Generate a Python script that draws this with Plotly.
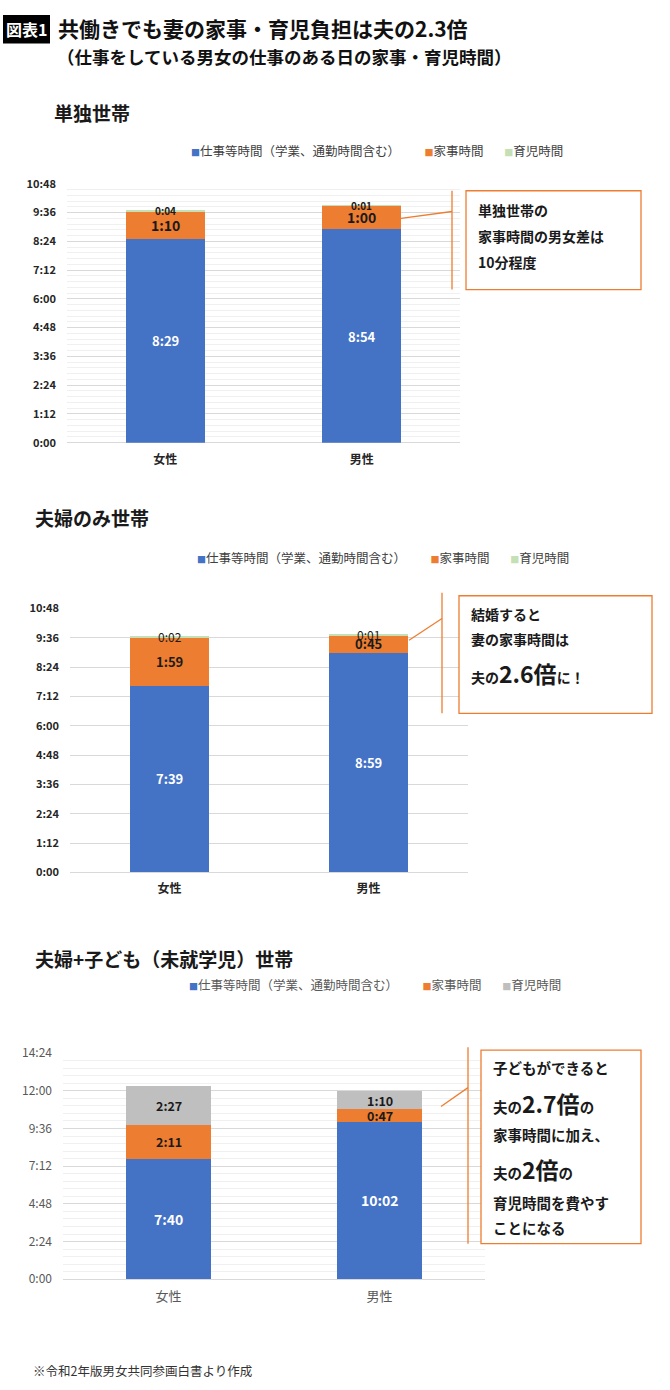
import plotly.graph_objects as go

W, H = 670, 1390
JP = "Noto Sans CJK JP"

# ---------------- data (minutes per day) ----------------
categories = ["女性", "男性"]
series_names = ["仕事等時間（学業、通勤時間含む）", "家事時間", "育児時間"]

single_work = [509, 534]    # 8:29, 8:54
single_house = [70, 60]     # 1:10, 1:00
single_child = [4, 1]       # 0:04, 0:01

couple_work = [459, 539]    # 7:39, 8:59
couple_house = [119, 45]    # 1:59, 0:45
couple_child = [2, 1]       # 0:02, 0:01

family_work = [460, 602]    # 7:40, 10:02
family_house = [131, 47]    # 2:11, 0:47
family_child = [147, 70]    # 2:27, 1:10

ticks_a = [0, 72, 144, 216, 288, 360, 432, 504, 576, 648]
ticks_a_labels = ["0:00", "1:12", "2:24", "3:36", "4:48", "6:00", "7:12", "8:24", "9:36", "10:48"]
ticks_b = [0, 144, 288, 432, 576, 720, 864]
ticks_b_labels = ["0:00", "2:24", "4:48", "7:12", "9:36", "12:00", "14:24"]

chart_titles = ["単独世帯", "夫婦のみ世帯", "夫婦+子ども（未就学児）世帯"]
main_title = "共働きでも妻の家事・育児負担は夫の2.3倍"
sub_title = "（仕事をしている男女の仕事のある日の家事・育児時間）"
footnote = "※令和2年版男女共同参画白書より作成"

BLUE, ORANGE, GREEN, GREY = "#4472C4", "#ED7D31", "#C5E0B4", "#BFBFBF"


def px(x):
    return x / W


def py(y):
    return 1 - y / H


def hm(m):
    return f"{m // 60}:{m % 60:02d}"


charts = [
    dict(series=[single_work, single_house, single_child], colors=[BLUE, ORANGE, GREEN],
         xd=(67, 460), yd=(176, 438), rng=648, ticks=ticks_a, labels=ticks_a_labels, minor=14.4,
         tickfont=dict(family=JP, size=11, color="#262626", weight="bold"),
         xfont=dict(family=JP, size=12, color="#262626", weight="bold"),
         lab=[(13, "white", True), (14, "#1a1a1a", True), (10, "#1a1a1a", True)],
         title_xy=(52, 104), legend_xy=(189, 142), legend_color="#404040"),
    dict(series=[couple_work, couple_house, couple_child], colors=[BLUE, ORANGE, GREEN],
         xd=(70, 468), yd=(606, 873), rng=648, ticks=ticks_a, labels=ticks_a_labels, minor=None,
         tickfont=dict(family=JP, size=11, color="#262626", weight="bold"),
         xfont=dict(family=JP, size=12, color="#262626", weight="bold"),
         lab=[(13, "white", True), (13, "#1a1a1a", True), (12, "#1a1a1a", False)],
         title_xy=(33, 514), legend_xy=(195, 554), legend_color="#404040"),
    dict(series=[family_work, family_house, family_child], colors=[BLUE, ORANGE, GREY],
         xd=(63, 485), yd=(1056, 1285), rng=864, ticks=ticks_b, labels=ticks_b_labels, minor=28.8,
         tickfont=dict(family=JP, size=12, color="#595959"),
         xfont=dict(family=JP, size=13, color="#595959"),
         lab=[(14, "white", True), (12.5, "#1a1a1a", True), (12.5, "#1a1a1a", True)],
         title_xy=(33, 960), legend_xy=(187, 987), legend_color="#595959"),
]

fig = go.Figure()
annotations = []
shapes = []
layout_axes = {}

for ci, c in enumerate(charts):
    sfx = "" if ci == 0 else str(ci + 1)
    xa, ya = "x" + sfx, "y" + sfx
    for si, vals in enumerate(c["series"]):
        fig.add_trace(go.Bar(
            x=categories, y=vals, name=series_names[si], marker=dict(color=c["colors"][si], line=dict(width=0)),
            width=0.4, xaxis=xa, yaxis=ya, showlegend=False, hoverinfo="skip"))
    # value labels at the middle of each stacked segment
    for i, cat in enumerate(categories):
        base = 0
        for si, vals in enumerate(c["series"]):
            v = vals[i]
            size, color, bold = c["lab"][si]
            t = hm(v)
            annotations.append(dict(
                x=cat, y=base + v / 2, xref=xa, yref=ya, showarrow=False,
                text=f"<b>{t}</b>" if bold else t,
                font=dict(family=JP, size=size, color=color), xanchor="center", yanchor="middle"))
            base += v
    layout_axes["xaxis" + sfx] = dict(
        domain=[px(c["xd"][0]), px(c["xd"][1])], anchor=ya, type="category",
        range=[-0.5, 1.5], showgrid=False, showline=False, ticks="", tickfont=c["xfont"],
        ticklabelstandoff=8, fixedrange=True)
    yax = dict(
        domain=[py(c["yd"][1]), py(c["yd"][0])], anchor=xa, range=[0, c["rng"]],
        tickmode="array", tickvals=c["ticks"], ticktext=c["labels"], showgrid=True,
        gridcolor="#D9D9D9", gridwidth=1, zeroline=True, zerolinecolor="#D9D9D9", zerolinewidth=1,
        showline=False, ticks="", tickfont=c["tickfont"], ticklabelstandoff=10, fixedrange=True)
    if c["minor"]:
        n = int(round(c["rng"] / c["minor"]))
        yax["minor"] = dict(tickmode="array", tickvals=[k * c["minor"] for k in range(n + 1)],
                            showgrid=True, gridcolor="#F0F0F0", gridwidth=1, ticks="")
    layout_axes["yaxis" + sfx] = yax

    # chart title
    tx, ty = c["title_xy"]
    annotations.append(dict(x=px(tx), y=py(ty), xref="paper", yref="paper", showarrow=False,
                            xanchor="left", yanchor="middle", text=f"<b>{chart_titles[ci]}</b>",
                            font=dict(family=JP, size=19, color="#1a1a1a")))
    # legend (drawn as text)
    gaps = ["\u3000\u3000\u00a0\u00a0", "\u3000\u00a0\u00a0\u00a0", ""]
    parts = []
    for si, nm in enumerate(series_names):
        parts.append(f'<span style="color:{c["colors"][si]};font-size:9px">■</span>{nm}{gaps[si]}')
    lx, ly = c["legend_xy"]
    annotations.append(dict(x=px(lx), y=py(ly), xref="paper", yref="paper", showarrow=False,
                            xanchor="left", yanchor="middle", text="".join(parts),
                            font=dict(family=JP, size=12.5, color=c["legend_color"])))

# ---------------- header ----------------
shapes.append(dict(type="rect", xref="paper", yref="paper", x0=px(3), x1=px(50), y0=py(34), y1=py(5),
                   fillcolor="black", line=dict(width=0)))
annotations.append(dict(x=px(26.5), y=py(19.5), xref="paper", yref="paper", showarrow=False,
                        text="<b>図表1</b>", font=dict(family=JP, size=16, color="white"),
                        xanchor="center", yanchor="middle"))
annotations.append(dict(x=px(56), y=py(18), xref="paper", yref="paper", showarrow=False,
                        text=f"<b>{main_title}</b>", font=dict(family=JP, size=21, color="#111111"),
                        xanchor="left", yanchor="middle"))
annotations.append(dict(x=px(55), y=py(47), xref="paper", yref="paper", showarrow=False,
                        text=f"<b>{sub_title}</b>", font=dict(family=JP, size=17.5, color="#111111"),
                        xanchor="left", yanchor="middle"))
annotations.append(dict(x=px(31), y=py(1377), xref="paper", yref="paper", showarrow=False,
                        text=footnote, font=dict(family=JP, size=12.5, color="#333333"),
                        xanchor="left", yanchor="middle"))

# ---------------- callouts ----------------
OL = dict(color=ORANGE, width=1.3)


def line(x0, y0, x1, y1):
    shapes.append(dict(type="line", xref="paper", yref="paper", x0=px(x0), y0=py(y0),
                       x1=px(x1), y1=py(y1), line=OL))


def box(x0, y0, x1, y1):
    shapes.append(dict(type="rect", xref="paper", yref="paper", x0=px(x0), y0=py(y1),
                       x1=px(x1), y1=py(y0), line=OL, fillcolor="white"))


def note(x, y, text, size=14):
    annotations.append(dict(x=px(x), y=py(y), xref="paper", yref="paper", showarrow=False,
                            xanchor="left", yanchor="middle", text=f"<b>{text}</b>",
                            font=dict(family=JP, size=size, color="#1a1a1a")))


big = '<span style="font-size:23px">{}</span>'

# box 1
line(452, 183, 452, 283)
line(401, 211, 452, 204)
box(466, 183, 641, 283)
note(476, 202, "単独世帯の")
note(476, 229, "家事時間の男女差は")
note(476, 255, "10分程度")

# box 2
line(442, 590, 442, 712)
line(409, 638, 442, 616)
box(459, 593, 652, 712)
note(469, 611, "結婚すると")
note(469, 637, "妻の家事時間は")
note(469, 671, "夫の" + big.format("2.6倍") + "に！")

# box 3
line(468, 1050, 468, 1249)
line(441, 1110, 468, 1091)
box(481, 1053, 641, 1249)
note(491, 1071, "子どもができると", 14.5)
note(491, 1107, "夫の" + big.format("2.7倍") + "の", 14.5)
note(491, 1138, "家事時間に加え、", 14.5)
note(491, 1173, "夫の" + big.format("2倍") + "の", 14.5)
note(491, 1207, "育児時間を費やす", 14.5)
note(491, 1233, "ことになる", 14.5)

fig.update_layout(
    width=W, height=H, margin=dict(l=0, r=0, t=0, b=0),
    paper_bgcolor="white", plot_bgcolor="white", barmode="stack", bargap=0.6,
    showlegend=False, font=dict(family=JP),
    annotations=annotations, shapes=shapes, **layout_axes)

fig.write_html("out.html")
